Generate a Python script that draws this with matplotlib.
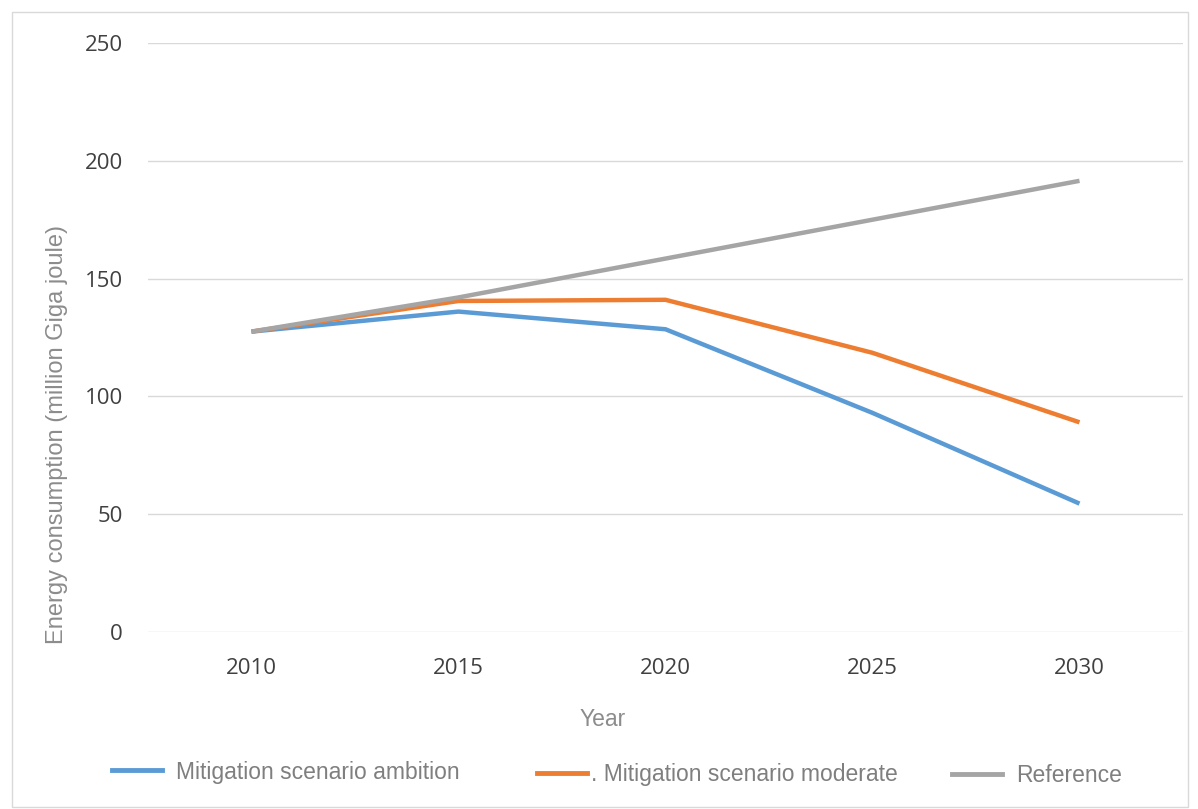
import matplotlib
matplotlib.use("Agg")
import matplotlib.pyplot as plt
from matplotlib.lines import Line2D
from matplotlib.patches import Rectangle

# energy consumption scenarios, million GJ
years = ["2010", "2015", "2020", "2025", "2030"]
ambition = [127.5, 136, 128.5, 93, 54.5]
moderate = [127.5, 140.5, 141, 118.5, 89]
reference = [127.5, 142, 158.5, 175, 191.5]

series_names = ["Mitigation scenario ambition", ". Mitigation scenario moderate", "Reference"]
series_colors = ["#5B9BD5", "#ED7D31", "#A5A5A5"]

W, H = 1198, 809
fig = plt.figure(figsize=(W / 100, H / 100), dpi=100)
ax = fig.add_axes([148 / W, 1 - 632 / H, (1183 - 148) / W, (632 - 43) / H])

x = list(range(len(years)))
for vals, col in zip([ambition, moderate, reference], series_colors):
    ax.plot(x, vals, color=col, lw=3.2, solid_capstyle="butt", solid_joinstyle="round")

ax.set_xlim(-0.5, len(years) - 0.5)
ax.set_ylim(0, 250)
ax.set_yticks([0, 50, 100, 150, 200, 250])
ax.set_xticks(x)
ax.set_xticklabels(years)
ax.grid(axis="y", color="#d9d9d9", lw=1)
ax.set_axisbelow(True)
for s in ax.spines.values():
    s.set_visible(False)
ax.tick_params(length=0, labelsize=16, labelcolor="#404040")
for lab in ax.get_xticklabels() + ax.get_yticklabels():
    lab.set_fontfamily("Open Sans")
ax.tick_params(axis="y", pad=18)
ax.tick_params(axis="x", pad=19)

ax.set_xlabel("Year", fontsize=16.5, color="#8c8c8c", family="Liberation Sans")
ax.set_ylabel("Energy consumption (million Giga joule)", fontsize=17, color="#8c8c8c",
              family="Liberation Sans")
ax.xaxis.set_label_coords((603 - 148) / 1035, (632 - 720) / 589)
ax.yaxis.set_label_coords((57 - 148) / 1035, (632 - 435) / 589)
ax.xaxis.label.set_va("center")
ax.yaxis.label.set_va("center")

# legend entries sit at slightly different positions
legend_pos = [(112, 772), (537, 775), (952, 776)]
text_pads = [0.6, 0.15, 0.6]
for name, col, (px, py), tp in zip(series_names, series_colors, legend_pos, text_pads):
    h = Line2D([], [], color=col, lw=3.5)
    fig.legend([h], [name], loc="center left", bbox_to_anchor=(px / W, 1 - py / H),
               frameon=False, handlelength=2.2, handletextpad=tp, borderaxespad=0,
               borderpad=0, prop={"family": "Liberation Sans", "size": 16.5},
               labelcolor="#7f7f7f")

# thin frame around the whole chart
fig.patches.append(Rectangle((12 / W, 0.002), 1176 / W, 1 - 12 / H - 0.002,
                             transform=fig.transFigure, fill=False, edgecolor="#d9d9d9", lw=1))

fig.savefig("out.png", dpi=100)
